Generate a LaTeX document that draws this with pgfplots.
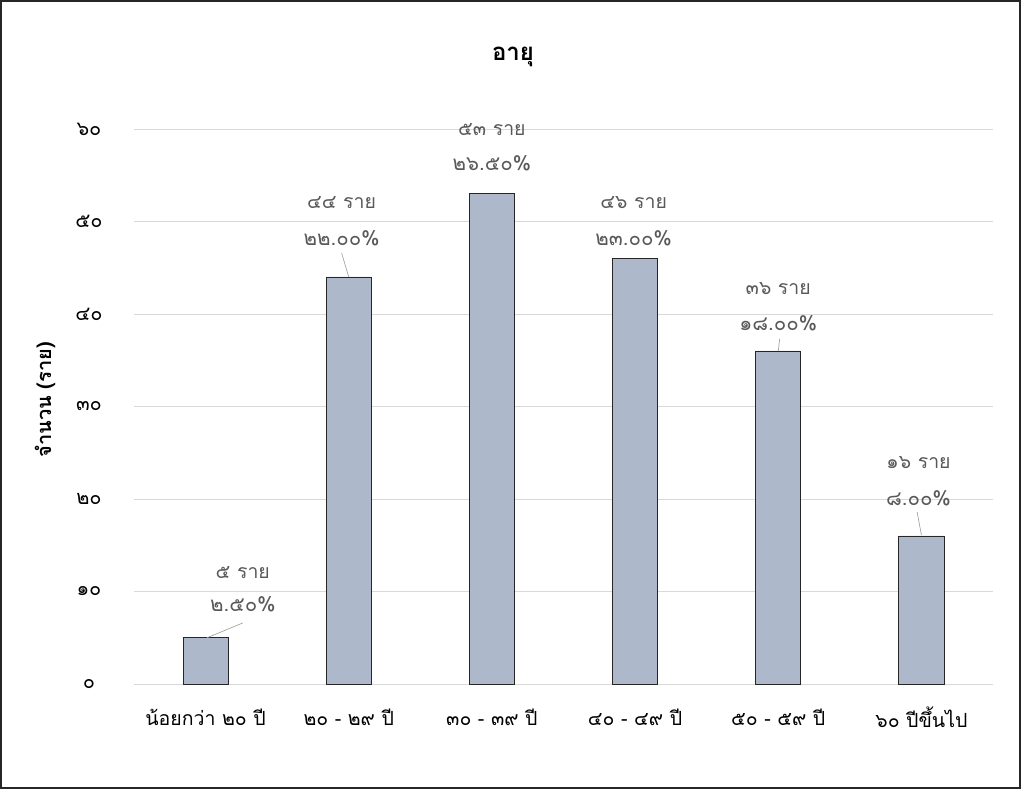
\documentclass[border=0pt]{standalone}
\usepackage{pgfplots}
\pgfplotsset{compat=1.18}
\usepackage{fontspec}
\setmainfont[Script=Thai]{Loma}
\definecolor{barfill}{RGB}{173,185,202}
\definecolor{lblgray}{RGB}{89,89,89}
\definecolor{gridgray}{RGB}{217,217,217}
\begin{document}
\begin{tikzpicture}
\begin{axis}[
 at={(0bp,0bp)}, anchor=south west,
 scale only axis, width=859bp, height=555bp,
 xmin=-0.5, xmax=5.5, ymin=0, ymax=60,
 axis line style={draw=none},
 tick style={draw=none},
 major tick length=0pt,
 ytick={0,10,20,30,40,50,60},
 yticklabels={๐,๑๐,๒๐,๓๐,๔๐,๕๐,๖๐},
 xtick={0,1,2,3,4,5},
 xticklabels={น้อยกว่า ๒๐ ปี,๒๐ - ๒๙ ปี,๓๐ - ๓๙ ปี,๔๐ - ๔๙ ปี,๕๐ - ๕๙ ปี,๖๐ ปีขึ้นไป},
 ymajorgrids, grid style={draw=gridgray, line width=0.9bp},
 yticklabel style={font=\fontsize{20bp}{22bp}\selectfont, anchor=center, xshift=-45bp},
 xticklabel style={font=\fontsize{19.5bp}{22bp}\selectfont, anchor=center, yshift=-33bp},
 clip=false,
]
\addplot[ybar, bar width=0.315, fill=barfill, draw=black!85, line width=0.8bp]
 coordinates {(0,5) (1,44) (2,53) (3,46) (4,36) (5,16)};
\addplot[lblgray!55, line width=0.7bp, forget plot] coordinates {(0.26,6.6) (0.01,5.0)};
\addplot[lblgray!55, line width=0.7bp, forget plot] coordinates {(0.95,46.6) (1.0,44.0)};
\addplot[lblgray!55, line width=0.7bp, forget plot] coordinates {(4.01,37.3) (4.0,36.0)};
\addplot[lblgray!55, line width=0.7bp, forget plot] coordinates {(4.97,18.6) (5.0,16.1)};
\addplot[draw=none, mark=none, nodes near coords, point meta=explicit symbolic,
 nodes near coords style={anchor=center, text=lblgray, font=\fontsize{19.5bp}{21bp}\selectfont}]
 coordinates {(0.26,12.1) [๕ ราย] (0.95,52.0) [๔๔ ราย] (2.0,59.9) [๕๓ ราย]
 (2.99,52.0) [๔๖ ราย] (4.0,42.8) [๓๖ ราย] (4.98,23.9) [๑๖ ราย]};
\addplot[draw=none, mark=none, nodes near coords, point meta=explicit symbolic,
 nodes near coords style={anchor=center, text=lblgray, font=\fontsize{20.5bp}{22bp}\selectfont}]
 coordinates {(0.26,8.65) [๒.๕๐\%] (0.95,48.2) [๒๒.๐๐\%] (2.0,56.3) [๒๖.๕๐\%]
 (2.99,48.2) [๒๓.๐๐\%] (4.0,39.0) [๑๘.๐๐\%] (4.98,20.1) [๘.๐๐\%]};
\end{axis}
\node[font=\bfseries\fontsize{24bp}{26bp}\selectfont] at (379bp,627bp) {อายุ};
\node[font=\bfseries\fontsize{20bp}{22bp}\selectfont, rotate=90] at (-89bp,284bp) {จำนวน (ราย)};
\draw[line width=2bp, black!85] (-133bp,-104bp) rectangle (886bp,683bp);
\end{tikzpicture}
\end{document}
